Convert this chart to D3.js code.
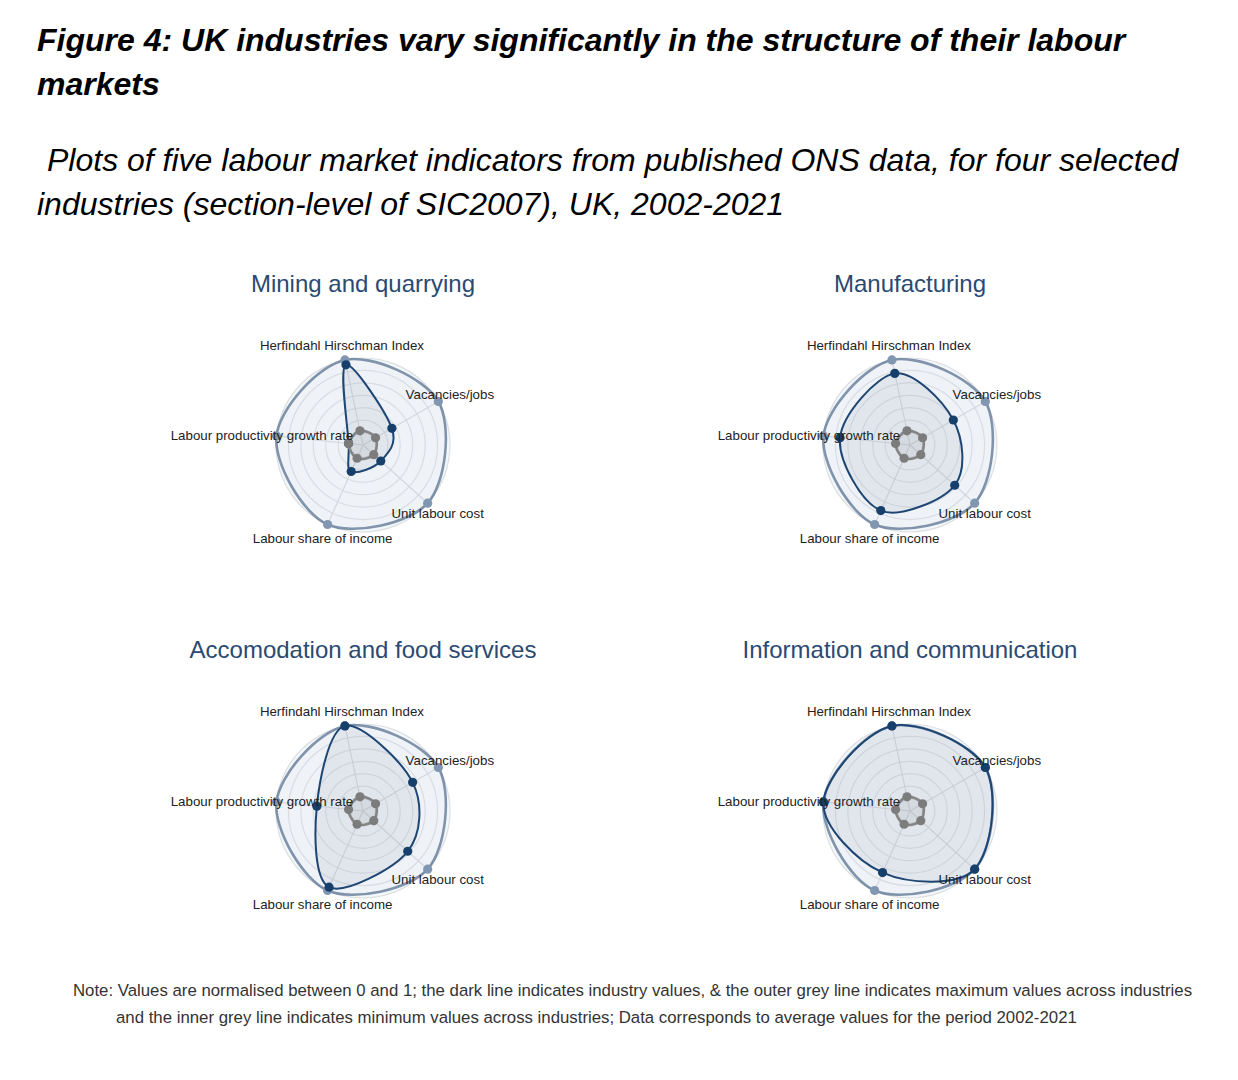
<!DOCTYPE html>
<html>
<head>
<meta charset="utf-8">
<script src="https://cdn.jsdelivr.net/npm/d3@7"></script>
<style>
  body { margin: 0; background: #fff; }
  svg { display: block; font-family: "Liberation Sans", Arial, sans-serif; }
</style>
</head>
<body>
<svg id="chart" width="1238" height="1080"></svg>
<script>
// Five labour market indicators, four industries (normalised 0-1)
const categories = [
  "Herfindahl Hirschman Index",
  "Vacancies/jobs",
  "Unit labour cost",
  "Labour share of income",
  "Labour productivity growth rate"
];
const industries = [
  "Mining and quarrying",
  "Manufacturing",
  "Accomodation and food services",
  "Information and communication"
];
const miningValues        = [0.93, 0.26, 0.13, 0.20, 0.00];
const manufacturingValues = [0.81, 0.49, 0.63, 0.79, 0.77];
const accomodationValues  = [1.00, 0.59, 0.63, 0.95, 0.44];
const infoCommValues      = [1.00, 1.00, 1.00, 0.73, 1.00];
const maxValues = [1, 1, 1, 1, 1];
const minValues = [0, 0, 0, 0, 0];

const industryValues = [miningValues, manufacturingValues, accomodationValues, infoCommValues];

const titleLines = [
  "Figure 4: UK industries vary significantly in the structure of their labour",
  "markets"
];
const subtitleLines = [
  "Plots of five labour market indicators from published ONS data, for four selected",
  "industries (section-level of SIC2007), UK, 2002-2021"
];
const noteLines = [
  "Note: Values are normalised between 0 and 1; the dark line indicates industry values, & the outer grey line indicates maximum values across industries",
  "and the inner grey line indicates minimum values across industries; Data corresponds to average values for the period 2002-2021"
];

const svg = d3.select("#chart");

// heading
svg.append("g").selectAll("text").data(titleLines).join("text")
  .attr("x", 37).attr("y", (d, i) => 51 + i * 44)
  .attr("font-size", 32).attr("font-weight", "bold").attr("font-style", "italic")
  .attr("fill", "#000").text(d => d);

svg.append("g").selectAll("text").data(subtitleLines).join("text")
  .attr("x", (d, i) => i === 0 ? 47 : 37).attr("y", (d, i) => 171 + i * 44)
  .attr("font-size", 32).attr("font-style", "italic")
  .attr("fill", "#000").text(d => d);

svg.append("g").selectAll("text").data(noteLines).join("text")
  .attr("x", (d, i) => i === 0 ? 73 : 116).attr("y", (d, i) => 996 + i * 27)
  .attr("font-size", 16.8).attr("fill", "#333").text(d => d);

// radar geometry
const R = 87;
const rot = -12 * Math.PI / 180;
const angle = d3.scaleLinear().domain([0, categories.length]).range([rot, rot + 2 * Math.PI]);
const r = d3.scaleLinear().domain([-0.2, 1]).range([0, R]);
const ringCount = 7;

const centers = [[363, 445], [910, 445], [363, 811], [910, 811]];

// label offsets from the value-1 point of each axis: [dx, dy(baseline)]
const labelOffsets = [[-3, -10], [11.5, -3], [10, 14.5], [-5, 19], [-14.5, 4]];

const radial = d3.lineRadial()
  .angle((d, i) => angle(i))
  .radius(d => r(d))
  .curve(d3.curveCardinalClosed.tension(0));

const px = (v, i) => r(v) * Math.sin(angle(i));
const py = (v, i) => -r(v) * Math.cos(angle(i));

industries.forEach((name, k) => {
  const [cx, cy] = centers[k];

  svg.append("text")
    .attr("x", cx).attr("y", cy - 153)
    .attr("text-anchor", "middle")
    .attr("font-size", 24).attr("fill", "#2b4a72")
    .text(name);

  const g = svg.append("g").attr("transform", `translate(${cx},${cy})`);

  g.append("circle").attr("r", R).attr("fill", "#f4f7fa");

  g.append("g").selectAll("circle").data(d3.range(1, ringCount + 1)).join("circle")
    .attr("r", d => R * d / ringCount)
    .attr("fill", "none").attr("stroke", "#dcdfe3").attr("stroke-width", 1.2);

  g.append("g").selectAll("line").data(categories).join("line")
    .attr("x1", 0).attr("y1", 0)
    .attr("x2", (d, i) => px(1, i)).attr("y2", (d, i) => py(1, i))
    .attr("stroke", "#d6d9dd").attr("stroke-width", 1.2);

  // max trace
  g.append("path").attr("d", radial(maxValues))
    .attr("fill", "rgba(200,210,222,0.1)")
    .attr("stroke", "rgba(90,115,145,0.75)").attr("stroke-width", 2.6);
  g.append("g").selectAll("circle").data(maxValues).join("circle")
    .attr("cx", px).attr("cy", py).attr("r", 4.6)
    .attr("fill", "#8197b1");

  // industry trace
  const vals = industryValues[k];
  g.append("path").attr("d", radial(vals))
    .attr("fill", "rgba(120,140,165,0.11)")
    .attr("stroke", "#1d4673").attr("stroke-width", 2);
  g.append("g").selectAll("circle").data(vals).join("circle")
    .attr("cx", px).attr("cy", py).attr("r", 4.6)
    .attr("fill", "#173f6b");

  // min trace
  g.append("path").attr("d", radial(minValues))
    .attr("fill", "rgba(128,128,128,0.12)")
    .attr("stroke", "#858585").attr("stroke-width", 2.6);
  g.append("g").selectAll("circle").data(minValues).join("circle")
    .attr("cx", px).attr("cy", py).attr("r", 4.6)
    .attr("fill", "#7c7c7c");

  // axis labels
  g.append("g").selectAll("text").data(categories).join("text")
    .attr("x", (d, i) => px(1, i) + labelOffsets[i][0])
    .attr("y", (d, i) => py(1, i) + labelOffsets[i][1])
    .attr("text-anchor", "middle")
    .attr("font-size", 13.3).attr("fill", "#222")
    .text(d => d);
});
</script>
</body>
</html>
